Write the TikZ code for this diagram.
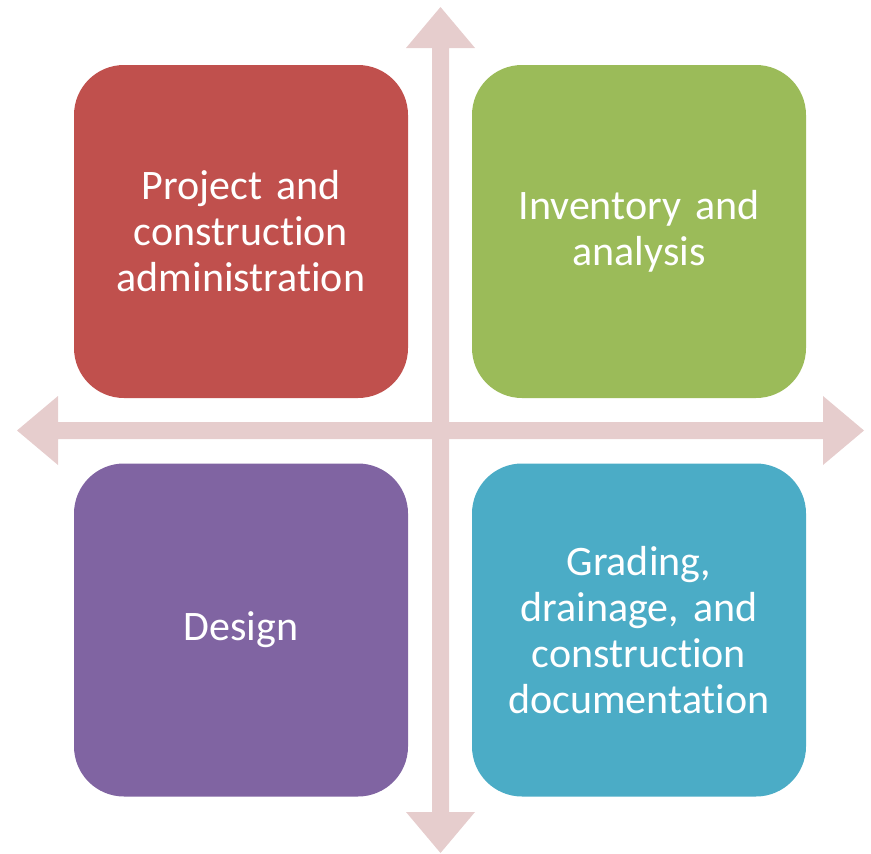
\documentclass[tikz,border=0pt]{standalone}
\usepackage{fontspec}
\setmainfont{Carlito}[Ligatures={NoCommon},WordSpace={0.75,0,0}]
\definecolor{arrowpink}{RGB}{230,205,205}
\definecolor{boxred}{RGB}{192,80,77}
\definecolor{boxgreen}{RGB}{155,187,89}
\definecolor{boxpurple}{RGB}{128,100,162}
\definecolor{boxteal}{RGB}{75,172,198}
\tikzset{
  quad/.style={rectangle, rounded corners=50pt, minimum width=334pt, minimum height=333pt,
    text=white, align=center, font=\fontsize{42}{46}\selectfont, inner sep=0pt, text width=320pt},
  crossarrow/.style={fill=arrowpink, draw=none}
}
\begin{document}
\begin{tikzpicture}[x=1pt,y=-1pt]
\useasboundingbox (0,0) rectangle (871,854);
% vertical double arrow
\fill[crossarrow] (440.5,7) -- (475,48) -- (449,48) -- (449,812) -- (475,812) -- (440.5,853)
  -- (406,812) -- (432,812) -- (432,48) -- (406,48) -- cycle;
% horizontal double arrow
\fill[crossarrow] (17,430.5) -- (58,396) -- (58,422) -- (823,422) -- (823,396) -- (864,430.5)
  -- (823,465) -- (823,439) -- (58,439) -- (58,465) -- cycle;
\node[quad, fill=boxred] (pca) at (241,231.5) {Project and\\construction\\administration};
\node[quad, fill=boxgreen] (ia) at (639,231.5) {Inventory and\\analysis};
\node[quad, fill=boxpurple] (des) at (241,630) {Design};
\node[quad, fill=boxteal] (gdc) at (639,630) {Grading,\\drainage, and\\construction\\documentation};
\end{tikzpicture}
\end{document}
